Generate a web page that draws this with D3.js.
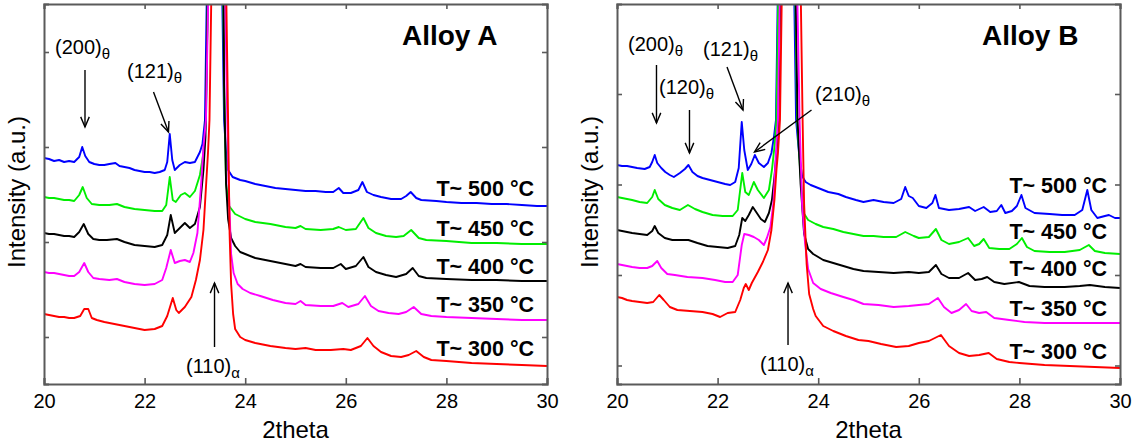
<!DOCTYPE html>
<html><head><meta charset="utf-8">
<script src="https://cdn.jsdelivr.net/npm/d3@7/dist/d3.min.js"></script>
<style>
body{margin:0;background:#fff}
svg{display:block}
text{font-family:"Liberation Sans",Arial,Helvetica,sans-serif;fill:#000}
</style>
</head><body>
<svg id="chart" width="1138" height="443"></svg>
<script>
// ---------------- DATA ----------------
const xTicks = [20, 22, 24, 26, 28, 30];
const xLabel = "2theta";
const yLabel = "Intensity (a.u.)";
const temperatures = ["T~ 500 °C", "T~ 450 °C", "T~ 400 °C", "T~ 350 °C", "T~ 300 °C"];
const seriesColors = ["#0000ff", "#00ee00", "#000000", "#ff00ff", "#ff0000"];
const yTicksA = [47, 142, 237, 332];
const yTicksB = [18.5, 109, 199.5, 290];

// Alloy A  [2theta, intensity a.u.]
const a500 = [[20,226],[20.1,225],[20.2,223],[20.3,224],[20.4,222],[20.5,223],[20.6,222],[20.7,227],[20.76,237],[20.82,228],[20.9,222],[21,220],[21.1,219],[21.2,219],[21.3,220],[21.42,221],[21.5,218],[21.6,217],[21.7,216],[21.8,214],[21.9,213],[22,212],[22.1,212],[22.2,211],[22.3,212],[22.4,214],[22.45,222],[22.5,250],[22.55,224],[22.6,214],[22.7,219],[22.8,222],[22.9,221],[23,222],[23.1,232],[23.15,240],[23.2,264],[23.24,400],[23.38,3000],[23.54,400],[23.58,264],[23.62,231],[23.66,214],[23.75,207],[23.9,204],[24,203],[24.2,200],[24.4,198],[24.6,196],[24.8,195],[25,194],[25.2,193],[25.4,193],[25.6,192],[25.75,192],[25.86,196],[25.95,191],[26.1,191],[26.25,194],[26.33,202],[26.42,192],[26.55,189],[26.7,187],[26.9,185],[27.1,185],[27.2,188],[27.29,192],[27.4,186],[27.5,184],[27.8,183],[28,182],[28.3,181],[28.6,181],[28.9,180],[29.2,180],[29.5,179],[29.8,178],[30,178]];
const a450 = [[20,187],[20.1,186],[20.2,186],[20.3,185],[20.4,184],[20.5,184],[20.6,183],[20.7,189],[20.77,197],[20.85,186],[20.95,180],[21.1,179],[21.3,179],[21.45,180],[21.6,177],[21.8,175],[22,174],[22.2,173],[22.35,173],[22.43,179],[22.5,207],[22.56,184],[22.62,182],[22.72,189],[22.8,191],[22.9,187],[23,193],[23.1,209],[23.17,231],[23.22,264],[23.26,400],[23.4,3000],[23.56,400],[23.58,300],[23.62,200],[23.68,178],[23.8,170],[24,165],[24.2,162],[24.5,160],[24.8,157],[25,156],[25.1,158],[25.2,155],[25.5,154],[25.75,155],[25.86,157],[26,154],[26.2,155],[26.35,166],[26.45,156],[26.6,151],[26.8,148],[27,147],[27.15,148],[27.3,154],[27.45,146],[27.6,144],[28,143],[28.5,141],[29,141],[29.5,140],[30,140]];
const a400 = [[20,151],[20.1,150],[20.2,150],[20.3,149],[20.4,148],[20.5,148],[20.6,147],[20.7,152],[20.79,160],[20.88,150],[20.98,145],[21.1,144],[21.25,144],[21.45,145],[21.6,142],[21.8,139],[22,138],[22.2,137],[22.35,139],[22.45,149],[22.52,169],[22.6,151],[22.7,156],[22.8,161],[22.9,156],[23,160],[23.1,177],[23.17,214],[23.21,247],[23.26,400],[23.4,3000],[23.57,400],[23.58,300],[23.62,200],[23.66,165],[23.72,146],[23.8,138],[23.9,132],[24,130],[24.2,126],[24.4,124],[24.6,122],[24.8,120],[25,118],[25.1,120],[25.2,117],[25.5,116],[25.75,116],[25.9,120],[26,115],[26.2,118],[26.35,127],[26.45,117],[26.6,112],[26.8,109],[27,107],[27.2,110],[27.33,116],[27.45,108],[27.6,106],[28,105],[28.5,104],[29,104],[29.5,103],[30,103]];
const a350 = [[20,112],[20.1,111],[20.2,111],[20.3,110],[20.4,109],[20.5,108],[20.6,108],[20.7,112],[20.8,121],[20.88,112],[20.98,106],[21.1,105],[21.3,104],[21.45,105],[21.6,102],[21.8,100],[22,99],[22.2,100],[22.35,104],[22.43,116],[22.52,134],[22.6,121],[22.7,123],[22.8,124],[22.9,122],[22.97,131],[23.05,151],[23.12,197],[23.17,237],[23.22,264],[23.27,400],[23.4,3000],[23.6,400],[23.63,300],[23.67,200],[23.72,130],[23.77,111],[23.85,100],[23.95,95],[24.1,91],[24.3,88],[24.55,84],[24.8,81],[25,80],[25.1,83],[25.2,79],[25.5,78],[25.75,78],[25.93,81],[26.05,77],[26.25,80],[26.38,88],[26.5,78],[26.65,73],[26.85,71],[27.05,70],[27.2,72],[27.35,77],[27.5,70],[27.7,68],[28,67],[28.5,66],[29,65],[29.5,64],[30,64]];
const a300 = [[20,70],[20.1,69],[20.2,68],[20.3,67],[20.4,67],[20.5,66],[20.6,66],[20.72,68],[20.8,75],[20.88,75],[20.95,66],[21.05,64],[21.2,62],[21.4,60],[21.6,58],[21.8,56],[22,54],[22.2,55],[22.35,58],[22.45,68],[22.56,86],[22.63,74],[22.68,71],[22.8,77],[22.93,87],[23.02,104],[23.1,124],[23.17,154],[23.22,197],[23.26,231],[23.29,264],[23.33,400],[23.47,3000],[23.62,400],[23.66,264],[23.69,150],[23.72,100],[23.76,70],[23.8,55],[23.9,47],[24,44],[24.2,41],[24.5,38],[24.8,36],[25,35],[25.2,36],[25.4,34],[25.7,34],[25.95,35],[26.1,34],[26.3,38],[26.43,46],[26.55,38],[26.7,32],[26.9,28],[27.1,27],[27.25,29],[27.4,33],[27.55,27],[27.7,24],[28,23],[28.5,21],[29,20],[29.5,19],[30,18]];

// Alloy B  [2theta, intensity a.u.]
const b500 = [[20,219],[20.1,218],[20.2,218],[20.3,217],[20.4,216],[20.55,215],[20.65,217],[20.7,222],[20.75,229],[20.8,221],[20.88,216],[20.96,212],[21.05,209],[21.13,207],[21.25,211],[21.35,215],[21.42,219],[21.5,212],[21.6,208],[21.7,206],[21.85,204],[22,202],[22.15,200],[22.25,199],[22.35,202],[22.42,216],[22.48,262],[22.53,234],[22.6,214],[22.67,220],[22.74,229],[22.82,221],[22.92,217],[23,221],[23.07,231],[23.12,247],[23.16,264],[23.2,400],[23.35,3000],[23.52,400],[23.56,264],[23.62,230],[23.68,208],[23.75,202],[23.85,199],[24,196],[24.2,192],[24.4,190],[24.55,187],[24.75,184],[24.9,182],[25.1,184],[25.3,182],[25.5,181],[25.65,185],[25.73,197],[25.8,188],[25.88,186],[26,178],[26.15,176],[26.27,181],[26.33,189],[26.4,176],[26.6,174],[26.8,175],[27,177],[27.12,173],[27.29,177],[27.42,172],[27.55,173],[27.64,179],[27.72,171],[27.85,173],[27.95,178],[28.04,189],[28.12,176],[28.3,171],[28.6,170],[28.85,169],[29.1,169],[29.25,174],[29.35,194],[29.43,174],[29.55,166],[29.7,168],[29.78,169],[29.9,166],[30,166]];
const b450 = [[20,187],[20.1,186],[20.2,185],[20.3,184],[20.45,182],[20.6,181],[20.7,187],[20.75,194],[20.82,185],[20.95,179],[21.1,176],[21.25,174],[21.41,179],[21.55,175],[21.7,172],[21.9,169],[22.1,168],[22.3,168],[22.4,174],[22.49,211],[22.55,192],[22.62,189],[22.72,202],[22.8,194],[22.92,186],[23.02,194],[23.08,214],[23.13,237],[23.17,264],[23.21,400],[23.37,3000],[23.54,400],[23.58,264],[23.64,215],[23.71,171],[23.8,164],[23.95,160],[24.1,157],[24.3,155],[24.5,152],[24.7,150],[24.9,148],[25.1,148],[25.3,147],[25.55,147],[25.73,152],[25.9,148],[26,146],[26.2,147],[26.34,155],[26.45,144],[26.6,140],[26.8,142],[26.98,146],[27.1,138],[27.2,140],[27.29,145],[27.4,136],[27.6,135],[27.8,135],[27.95,140],[28.05,146],[28.15,137],[28.3,133],[28.6,132],[28.9,132],[29.2,134],[29.38,139],[29.5,133],[29.7,131],[30,130]];
const b400 = [[20,154],[20.1,153],[20.2,152],[20.3,151],[20.45,150],[20.6,149],[20.7,153],[20.75,158],[20.82,151],[20.95,146],[21.1,144],[21.25,144],[21.42,144],[21.6,141],[21.8,138],[22,137],[22.2,136],[22.35,138],[22.43,149],[22.49,166],[22.55,163],[22.62,169],[22.7,177],[22.78,171],[22.86,165],[22.94,162],[23.02,171],[23.08,184],[23.13,207],[23.18,237],[23.21,264],[23.25,400],[23.38,3000],[23.55,400],[23.59,264],[23.65,200],[23.72,150],[23.8,135],[23.9,130],[24.1,124],[24.3,121],[24.5,118],[24.7,115],[24.9,113],[25.2,112],[25.5,111],[25.8,112],[26,111],[26.2,112],[26.34,119],[26.45,110],[26.6,106],[26.8,106],[26.98,111],[27.12,104],[27.25,105],[27.36,107],[27.5,102],[27.7,100],[27.99,102],[28.2,98],[28.5,97],[28.9,97],[29.2,98],[29.4,99],[29.7,97],[30,96]];
const b350 = [[20,120],[20.1,119],[20.2,118],[20.3,117],[20.45,116],[20.6,116],[20.7,118],[20.8,123],[20.88,116],[21,110],[21.15,109],[21.4,107],[21.7,106],[21.95,104],[22.15,102],[22.3,102],[22.4,109],[22.48,139],[22.53,150],[22.62,149],[22.72,147],[22.82,144],[22.92,139],[22.98,146],[23.05,157],[23.11,181],[23.15,221],[23.2,264],[23.24,400],[23.4,3000],[23.58,400],[23.63,264],[23.68,180],[23.74,140],[23.8,115],[23.9,101],[24.05,95],[24.25,91],[24.5,87],[24.7,84],[24.9,80],[25.2,79],[25.5,77],[25.8,78],[26,79],[26.2,80],[26.38,86],[26.5,77],[26.65,71],[26.8,74],[26.94,80],[27.05,73],[27.2,71],[27.34,72],[27.5,66],[27.8,64],[28.1,62],[28.5,61],[29,61],[29.5,61],[30,61]];
const b300 = [[20,87],[20.1,86],[20.2,84],[20.3,83],[20.45,82],[20.6,81],[20.72,82],[20.84,89],[20.93,84],[21.05,77],[21.2,74],[21.45,73],[21.7,72],[21.9,70],[22.05,67],[22.2,71],[22.35,72],[22.45,84],[22.52,96],[22.56,100],[22.62,94],[22.68,101],[22.8,112],[22.9,122],[23,134],[23.07,154],[23.13,184],[23.17,214],[23.2,231],[23.24,264],[23.28,400],[23.45,3000],[23.65,400],[23.69,264],[23.72,180],[23.77,120],[23.82,90],[23.9,75],[23.95,68],[24.1,58],[24.3,53],[24.55,48],[24.8,44],[25,43],[25.25,40],[25.55,37],[25.8,38],[26,41],[26.2,43],[26.44,49],[26.6,38],[26.8,31],[27,28],[27.2,29],[27.39,31],[27.55,25],[27.8,22],[28,21],[28.5,19],[29,18],[29.5,17],[30,16]];

// annotations: [text, subscript, textX, textY(baseline), arrow tail x,y, arrow tip x,y]  (data coords)
const notesA = [
  ["(200)", "θ", 20.219, 330, 20.815, 314, 20.815, 257],
  ["(121)", "θ", 21.65, 306, 22.177, 292, 22.475, 252],
  ["(110)", "α", 22.823, 11, 23.39, 37, 23.39, 101]
];
const notesB = [
  ["(200)", "θ", 20.219, 333, 20.785, 319, 20.785, 261],
  ["(120)", "θ", 20.835, 290, 21.441, 274, 21.441, 231],
  ["(121)", "θ", 21.71, 328, 22.187, 317, 22.505, 274],
  ["(210)", "θ", 23.936, 283, 23.867, 274, 22.734, 232],
  ["(110)", "α", 22.843, 13, 23.40, 39, 23.40, 101]
];

// ---------------- LAYOUT ----------------
const svg = d3.select("#chart");
const plotTop = 4, plotBottom = 384, pw = 503;
const panels = [
  { x0: 44, title: "Alloy A", titleAt: [27.117, 339], series: [a500, a450, a400, a350, a300], yTicks: yTicksA, notes: notesA,
    labelX: 29.742, labelY: [188, 148, 110, 72, 28], yLabelX: 25 },
  { x0: 617, title: "Alloy B", titleAt: [27.256, 339], series: [b500, b450, b400, b350, b300], yTicks: yTicksB, notes: notesB,
    labelX: 29.742, labelY: [191.5, 145.5, 108, 68.5, 25], yLabelX: 598 }
];

panels.forEach((p, pi) => {
  const x = d3.scaleLinear().domain([20, 30]).range([p.x0, p.x0 + pw]);
  const y = d3.scaleLinear().domain([0, 380]).range([plotBottom, plotTop]);
  const g = svg.append("g");

  const clipId = "clip" + pi;
  svg.append("clipPath").attr("id", clipId).append("rect")
    .attr("x", p.x0).attr("y", plotTop).attr("width", pw).attr("height", plotBottom - plotTop);

  // curves
  const line = d3.line().x(d => x(d[0])).y(d => y(d[1]));
  const lg = g.append("g").attr("clip-path", `url(#${clipId})`);
  p.series.forEach((s, i) => {
    lg.append("path").datum(s).attr("d", line)
      .attr("fill", "none").attr("stroke", seriesColors[i])
      .attr("stroke-width", 1.9).attr("stroke-linejoin", "round");
  });

  // axes (ticks inward, no labels except bottom)
  const axCol = "#5a5a5a";
  const bAx = g.append("g").attr("transform", `translate(0,${plotBottom})`)
    .call(d3.axisBottom(x).tickValues(xTicks).tickSize(-6).tickPadding(10).tickFormat(d3.format("d")));
  const tAx = g.append("g").attr("transform", `translate(0,${plotTop})`)
    .call(d3.axisTop(x).tickValues(xTicks).tickSize(-5).tickFormat(""));
  const lAx = g.append("g").attr("transform", `translate(${p.x0},0)`)
    .call(d3.axisLeft(y).tickValues(p.yTicks).tickSize(-5).tickFormat(""));
  const rAx = g.append("g").attr("transform", `translate(${p.x0 + pw},0)`)
    .call(d3.axisRight(y).tickValues(p.yTicks).tickSize(-5).tickFormat(""));
  [bAx, tAx, lAx, rAx].forEach(a => {
    a.select(".domain").attr("stroke", axCol).attr("stroke-width", 2);
    a.selectAll(".tick line").attr("stroke", axCol).attr("stroke-width", 1.6);
  });
  bAx.selectAll(".tick text").attr("font-size", 20).attr("fill", "#000")
    .style("font-family", "'Liberation Sans', Arial, sans-serif");

  // axis titles
  g.append("text").attr("x", p.x0 + pw / 2).attr("y", 438).attr("text-anchor", "middle")
    .attr("font-size", 24).text(xLabel);
  g.append("text").attr("transform", `translate(${p.yLabelX},192) rotate(-90)`)
    .attr("text-anchor", "middle").attr("font-size", 24).text(yLabel);

  // panel title
  g.append("text").attr("x", x(p.titleAt[0])).attr("y", y(p.titleAt[1]))
    .attr("font-size", 28).attr("font-weight", "bold").text(p.title);

  // temperature labels
  temperatures.forEach((t, i) => {
    g.append("text").attr("x", x(p.labelX)).attr("y", y(p.labelY[i]))
      .attr("text-anchor", "end").attr("font-size", 21.5).attr("font-weight", "bold").text(t);
  });

  // peak annotations
  p.notes.forEach(n => {
    const t = g.append("text").attr("x", x(n[2])).attr("y", y(n[3])).attr("font-size", 20);
    t.append("tspan").text(n[0]);
    t.append("tspan").attr("font-size", 15).attr("dy", 5).text(n[1]);
    const x1 = x(n[4]), y1 = y(n[5]), x2 = x(n[6]), y2 = y(n[7]);
    g.append("line").attr("x1", x1).attr("y1", y1).attr("x2", x2).attr("y2", y2)
      .attr("stroke", "#000").attr("stroke-width", 1.4);
    const ang = Math.atan2(y1 - y2, x1 - x2), L = 11, a = 0.4;
    g.append("path")
      .attr("d", `M${x2 + L * Math.cos(ang + a)},${y2 + L * Math.sin(ang + a)}L${x2},${y2}L${x2 + L * Math.cos(ang - a)},${y2 + L * Math.sin(ang - a)}`)
      .attr("fill", "none").attr("stroke", "#000").attr("stroke-width", 1.4);
  });
});
</script>
</body></html>
